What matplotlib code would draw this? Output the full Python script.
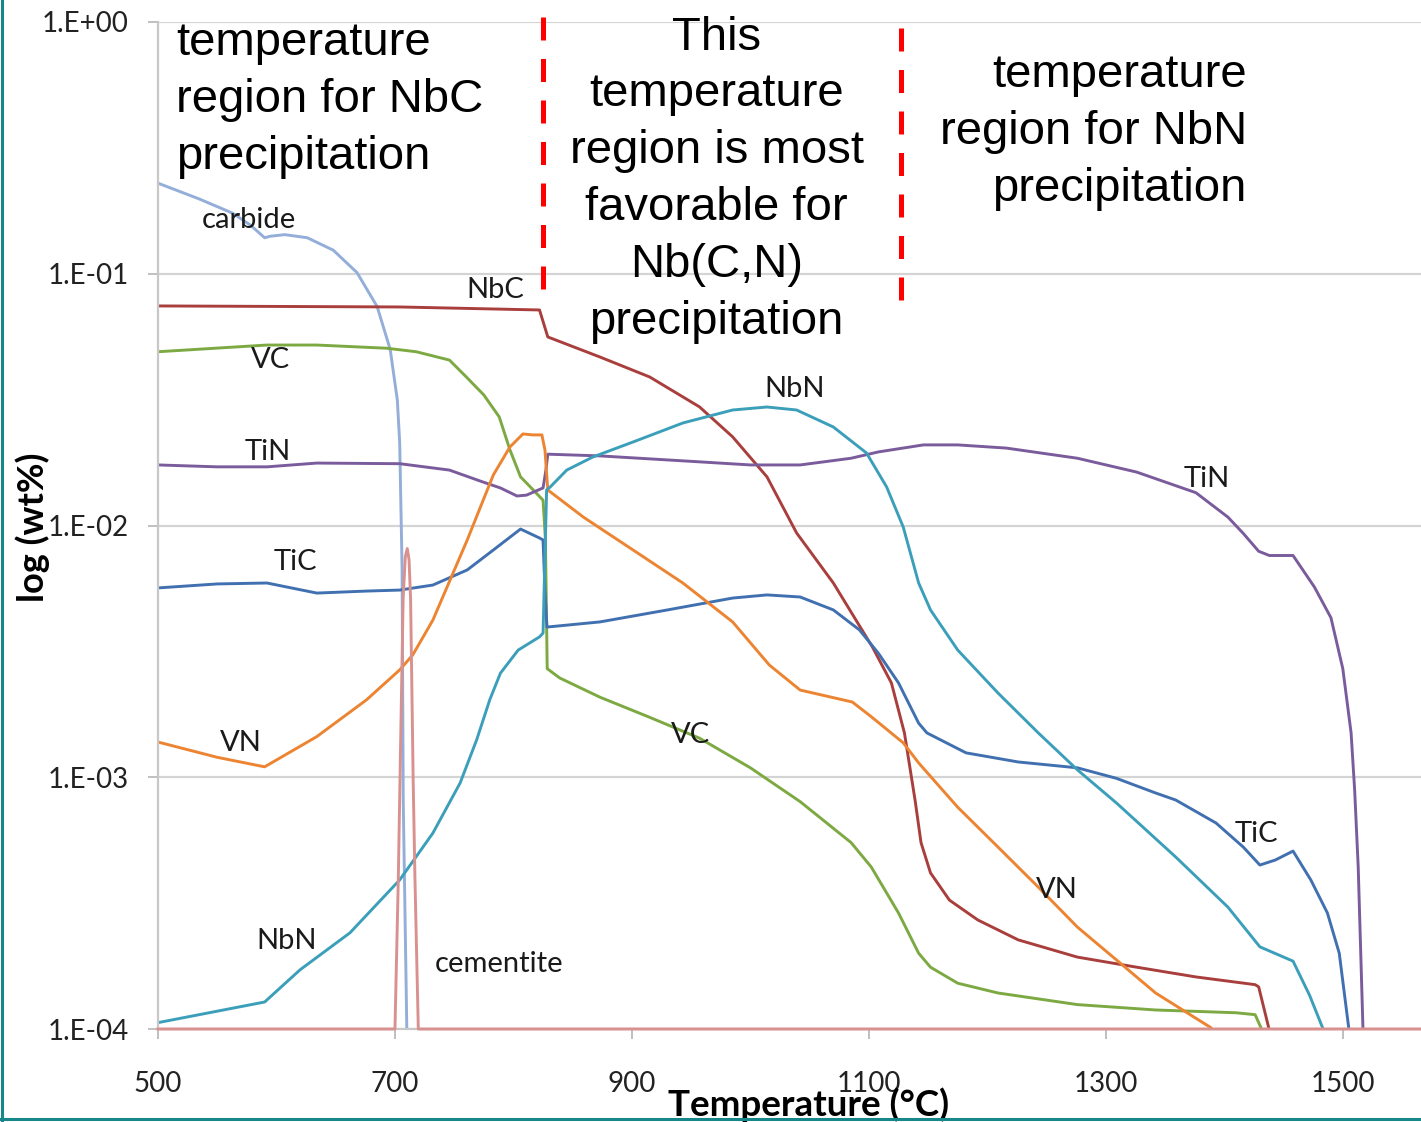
import matplotlib.pyplot as plt
from matplotlib.lines import Line2D
from matplotlib.ticker import FixedLocator, NullLocator

plt.rcParams["font.family"] = ["Lato", "DejaVu Sans"]

# Equilibrium amount of each precipitate (wt%) against temperature (°C)
carbide_temp = [500, 535, 563, 578, 590, 595, 607, 626, 648, 668, 685, 696, 702, 704, 706, 707, 710, 711]
carbide_wt = [0.229, 0.198, 0.174, 0.156, 0.139, 0.141, 0.143, 0.139, 0.124, 0.101, 0.074, 0.050,
              0.0315, 0.0213, 0.0068, 0.0008, 0.0001, 0.000075]

cementite_temp = [500, 700, 702.8, 704.2, 706.9, 708.7, 710.4, 711.9, 713.2, 715.4, 716.9, 719.7, 1566]
cementite_wt = [1e-4, 1e-4, 3.9e-4, 9.5e-4, 5.1e-3, 7.5e-3, 8.1e-3, 7.3e-3, 5.1e-3, 9.5e-4, 3.9e-4, 1e-4, 1e-4]

nbc_temp = [500, 704, 822, 829, 873, 915, 957, 985, 1014, 1039, 1070, 1103, 1119, 1130, 1139,
            1144, 1152, 1168, 1192, 1226, 1276, 1326, 1376, 1426, 1429, 1437.5, 1440]
nbc_wt = [0.0745, 0.0738, 0.0718, 0.0561, 0.0467, 0.0389, 0.0296, 0.0225, 0.0156, 0.00934,
          0.00591, 0.00329, 0.00237, 0.0015, 0.00081, 0.00055, 0.000417, 0.000325, 0.000271,
          0.000226, 0.000193, 0.000176, 0.000161, 0.00015, 0.000147, 0.000101, 0.000075]

vc_temp = [500, 592, 634, 693, 718, 746, 760, 775, 788, 797, 806, 817, 825, 827, 828.5, 839, 873,
           915, 957, 1000, 1042, 1085, 1102, 1125, 1142, 1152, 1175, 1209, 1276, 1342, 1410, 1426,
           1431, 1433]
vc_wt = [0.049, 0.0521, 0.0521, 0.0506, 0.049, 0.0454, 0.039, 0.033, 0.027, 0.020, 0.0156, 0.0138,
         0.0126, 0.0088, 0.0027, 0.00248, 0.00208, 0.00173, 0.00143, 0.00109, 0.0008, 0.00055,
         0.00044, 0.000289, 0.0002, 0.000176, 0.000152, 0.000139, 0.000125, 0.000119, 0.000116,
         0.000114, 0.000101, 0.000075]

tin_temp = [500, 550, 592, 634, 704, 746, 774, 789, 803, 811, 825, 827.4, 829, 873, 957, 1000, 1042,
            1085, 1108, 1146, 1175, 1216, 1276, 1326, 1376, 1403, 1416, 1429, 1438, 1458, 1476, 1490,
            1500, 1507, 1510, 1513, 1517, 1518]
tin_wt = [0.0174, 0.0171, 0.0171, 0.0177, 0.0176, 0.0166, 0.0149, 0.0141, 0.0131, 0.0132, 0.0141,
          0.0166, 0.0192, 0.0189, 0.0179, 0.0174, 0.0174, 0.0185, 0.0196, 0.0209, 0.0209, 0.0203,
          0.0185, 0.0163, 0.0135, 0.0108, 0.0093, 0.0079, 0.0076, 0.0076, 0.0057, 0.0043, 0.0027,
          0.0015, 0.00089, 0.00044, 0.000101, 0.000075]

tic_temp = [500, 550, 592, 634, 676, 704, 732, 761, 783, 806, 822, 825, 826.6, 828.3, 873, 930, 985,
            1014, 1042, 1070, 1092, 1108, 1125, 1142, 1149, 1182, 1226, 1276, 1309, 1342, 1359, 1393,
            1416, 1430, 1443, 1458, 1473, 1487, 1497, 1505, 1506]
tic_wt = [0.00565, 0.00586, 0.00591, 0.00539, 0.00549, 0.00554, 0.0058, 0.00666, 0.00799, 0.00968,
          0.00892, 0.00876, 0.0055, 0.00395, 0.00414, 0.00462, 0.00515, 0.0053, 0.0052, 0.00462,
          0.00385, 0.00311, 0.00237, 0.00164, 0.0015, 0.00125, 0.00115, 0.00109, 0.00099, 0.000866,
          0.000812, 0.000658, 0.000528, 0.000448, 0.000469, 0.000509, 0.000391, 0.000289, 0.0002,
          0.000101, 0.000075]

vn_temp = [500, 550, 590, 634, 676, 704, 715, 732, 761, 783, 797, 808, 816.5, 824, 826.6, 829, 859,
           901, 943, 985, 1016, 1042, 1086, 1102, 1129, 1142, 1175, 1209, 1243, 1276, 1309, 1342,
           1389, 1396]
vn_wt = [0.00138, 0.0012, 0.0011, 0.00145, 0.00203, 0.00267, 0.00306, 0.00421, 0.00876, 0.01587,
         0.0205, 0.0231, 0.0229, 0.0229, 0.01995, 0.01384, 0.0108, 0.00799, 0.00591, 0.00414,
         0.00279, 0.00222, 0.00199, 0.00174, 0.00137, 0.00114, 0.00076, 0.000528, 0.000366,
         0.000254, 0.000188, 0.000139, 0.000101, 0.000075]

nbn_temp = [500, 590, 620, 662, 704, 732, 755, 769, 780, 789, 804, 822, 825, 828, 831, 845, 867, 901,
            943, 985, 1014, 1039, 1070, 1098, 1115, 1129, 1142, 1152, 1175, 1209, 1243, 1276, 1309,
            1359, 1403, 1430, 1458, 1472, 1483, 1486]
nbn_wt = [0.000106, 0.000128, 0.000172, 0.000241, 0.000391, 0.0006, 0.000949, 0.00141, 0.00203,
          0.00259, 0.0032, 0.00361, 0.00374, 0.01384, 0.01422, 0.0166, 0.01871, 0.02147, 0.02554,
          0.02876, 0.02956, 0.02876, 0.02462, 0.01941, 0.01422, 0.00986, 0.00591, 0.00462, 0.0032,
          0.00216, 0.0015, 0.00107, 0.00079, 0.000482, 0.000305, 0.000212, 0.000186, 0.000136,
          0.000101, 0.000075]

x_ticks = [500, 700, 900, 1100, 1300, 1500]
y_ticks = [1e-4, 1e-3, 1e-2, 1e-1, 1]
y_tick_labels = ["1.E-04", "1.E-03", "1.E-02", "1.E-01", "1.E+00"]

fig = plt.figure(figsize=(14.21, 11.22), dpi=100)
ax = fig.add_axes([158 / 1421, 93 / 1122, 1263 / 1421, 1007 / 1122])

series = [
    (carbide_temp, carbide_wt, "#93AED8"),
    (nbc_temp, nbc_wt, "#A93F3D"),
    (vc_temp, vc_wt, "#7DA942"),
    (tin_temp, tin_wt, "#7A5C9C"),
    (tic_temp, tic_wt, "#4170B0"),
    (vn_temp, vn_wt, "#EC8431"),
    (nbn_temp, nbn_wt, "#3C9FBA"),
]
for temp, wt, color in series:
    ax.plot(temp, wt, color=color, lw=2.1, solid_joinstyle="round")
# cementite sits on the floor of the axis, so keep it unclipped
ax.plot(cementite_temp, cementite_wt, color="#D9918F", lw=2.1, clip_on=False, zorder=3)

ax.set_yscale("log")
ax.set_xlim(500, 1566)
ax.set_ylim(1e-4, 1)
ax.yaxis.set_major_locator(FixedLocator(y_ticks))
ax.yaxis.set_minor_locator(NullLocator())
ax.set_yticklabels(y_tick_labels)
ax.set_xticks(x_ticks)
ax.grid(axis="y", color="#D4D4D4", lw=1.6)
ax.set_axisbelow(True)
for side in ("top", "right"):
    ax.spines[side].set_visible(False)
for side in ("left", "bottom"):
    ax.spines[side].set_color("#C8C8C8")
    ax.spines[side].set_linewidth(1.6)
ax.tick_params(axis="both", direction="out", length=7, width=1.4, color="#C0C0C0",
               labelsize=20, labelcolor="#222222")
ax.tick_params(axis="x", pad=23)
ax.tick_params(axis="y", pad=14)

ax.text(-0.099, 0.4985, "log (wt%)", transform=ax.transAxes, rotation=90,
        ha="center", va="center", fontsize=26, fontweight="bold")
ax.text(0.5154, -0.0755, "Temperature (°C)", transform=ax.transAxes,
        ha="center", va="center", fontsize=26.5, fontweight="bold")

# curve names
curve_labels = [
    ("carbide", 576.8, 0.1635), ("NbC", 784.4, 0.0862), ("VC", 595.4, 0.0454),
    ("TiN", 592.8, 0.0196), ("TiC", 615.6, 0.00716), ("VN", 570, 0.00137),
    ("NbN", 608.9, 0.000224), ("cementite", 787.8, 0.000181), ("VC", 949.8, 0.00147),
    ("NbN", 1037.5, 0.0348), ("TiN", 1385.2, 0.0153), ("TiC", 1427.4, 0.000595),
    ("VN", 1258.6, 0.000357),
]
for name, tx, ty in curve_labels:
    ax.text(tx, ty, name, fontsize=21, color="#1A1A1A", ha="center", va="center", zorder=5)

# temperature windows
for x0, y_top, y_bot in [(825.2, 1.05, 0.0849), (1127.4, 0.944, 0.0763)]:
    ax.plot([x0, x0], [y_top, y_bot], color="#FF0000", lw=3.6, dashes=(4.6, 3.7),
            solid_capstyle="butt", clip_on=False, zorder=4)

note_style = dict(fontsize=34, family=["Liberation Sans", "DejaVu Sans"], color="black",
                  linespacing=1.38, va="top", zorder=6)
ax.text(515.2, 1.009, "temperature\nregion for NbC\nprecipitation", ha="left",
        multialignment="left", **note_style)
ax.text(971.5, 1.061, "This\ntemperature\nregion is most\nfavorable for\nNb(C,N)\nprecipitation",
        ha="center", multialignment="center", **note_style)
ax.text(1419.0, 0.755, "temperature\nregion for NbN\nprecipitation", ha="right",
        multialignment="right", **note_style)

# slide frame edges
fig.add_artist(Line2D([0.0011, 0.0011], [0, 1], transform=fig.transFigure, color="#17878A", lw=2.2))
fig.add_artist(Line2D([0, 1], [0.0027, 0.0027], transform=fig.transFigure, color="#17878A", lw=2.2))

fig.savefig("out.png", dpi=100)
